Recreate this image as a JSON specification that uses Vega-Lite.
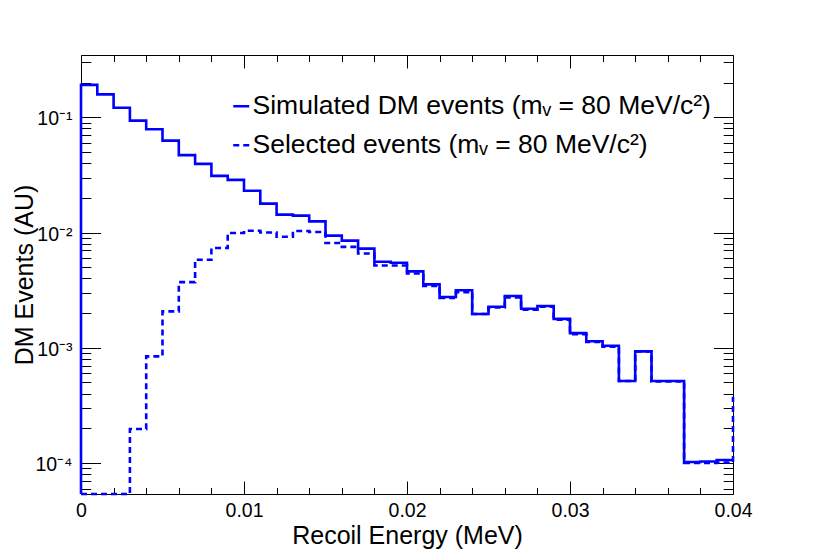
{
  "$schema": "https://vega.github.io/schema/vega-lite/v6.json",
  "width": 652,
  "height": 439,
  "autosize": {"type": "none"},
  "padding": {"left": 81, "top": 55, "right": 81, "bottom": 57},
  "background": "white",
  "config": {"font": "Liberation Sans", "view": {"stroke": null}},
  "data": {
    "values": [
      {"s": "sim", "i": 0, "x": 0, "y": 0.0000538},
      {"s": "sim", "i": 1, "x": 0.000, "y": 0.191},
      {"s": "sim", "i": 2, "x": 0.001, "y": 0.158},
      {"s": "sim", "i": 3, "x": 0.002, "y": 0.121},
      {"s": "sim", "i": 4, "x": 0.003, "y": 0.0935},
      {"s": "sim", "i": 5, "x": 0.004, "y": 0.0787},
      {"s": "sim", "i": 6, "x": 0.005, "y": 0.0627},
      {"s": "sim", "i": 7, "x": 0.006, "y": 0.0469},
      {"s": "sim", "i": 8, "x": 0.007, "y": 0.0394},
      {"s": "sim", "i": 9, "x": 0.008, "y": 0.031},
      {"s": "sim", "i": 10, "x": 0.009, "y": 0.0286},
      {"s": "sim", "i": 11, "x": 0.010, "y": 0.0230},
      {"s": "sim", "i": 12, "x": 0.011, "y": 0.0178},
      {"s": "sim", "i": 13, "x": 0.012, "y": 0.0143},
      {"s": "sim", "i": 14, "x": 0.013, "y": 0.0140},
      {"s": "sim", "i": 15, "x": 0.014, "y": 0.0125},
      {"s": "sim", "i": 16, "x": 0.015, "y": 0.0094},
      {"s": "sim", "i": 17, "x": 0.016, "y": 0.0085},
      {"s": "sim", "i": 18, "x": 0.017, "y": 0.00724},
      {"s": "sim", "i": 19, "x": 0.018, "y": 0.00558},
      {"s": "sim", "i": 20, "x": 0.019, "y": 0.00547},
      {"s": "sim", "i": 21, "x": 0.020, "y": 0.00460},
      {"s": "sim", "i": 22, "x": 0.021, "y": 0.00355},
      {"s": "sim", "i": 23, "x": 0.022, "y": 0.00276},
      {"s": "sim", "i": 24, "x": 0.023, "y": 0.00315},
      {"s": "sim", "i": 25, "x": 0.024, "y": 0.00196},
      {"s": "sim", "i": 26, "x": 0.025, "y": 0.00227},
      {"s": "sim", "i": 27, "x": 0.026, "y": 0.00281},
      {"s": "sim", "i": 28, "x": 0.027, "y": 0.00218},
      {"s": "sim", "i": 29, "x": 0.028, "y": 0.00230},
      {"s": "sim", "i": 30, "x": 0.029, "y": 0.00178},
      {"s": "sim", "i": 31, "x": 0.030, "y": 0.00134},
      {"s": "sim", "i": 32, "x": 0.031, "y": 0.00114},
      {"s": "sim", "i": 33, "x": 0.032, "y": 0.00104},
      {"s": "sim", "i": 34, "x": 0.033, "y": 0.000514},
      {"s": "sim", "i": 35, "x": 0.034, "y": 0.00093},
      {"s": "sim", "i": 36, "x": 0.035, "y": 0.000514},
      {"s": "sim", "i": 37, "x": 0.036, "y": 0.000514},
      {"s": "sim", "i": 38, "x": 0.037, "y": 0.000102},
      {"s": "sim", "i": 39, "x": 0.038, "y": 0.000103},
      {"s": "sim", "i": 40, "x": 0.039, "y": 0.000106},
      {"s": "sim", "i": 41, "x": 0.040, "y": 0.000106},
      {"s": "sel", "i": 1, "x": 0.000, "y": 0.0000538},
      {"s": "sel", "i": 2, "x": 0.001, "y": 0.0000538},
      {"s": "sel", "i": 3, "x": 0.002, "y": 0.0000538},
      {"s": "sel", "i": 4, "x": 0.003, "y": 0.000197},
      {"s": "sel", "i": 5, "x": 0.004, "y": 0.000842},
      {"s": "sel", "i": 6, "x": 0.005, "y": 0.00207},
      {"s": "sel", "i": 7, "x": 0.006, "y": 0.00371},
      {"s": "sel", "i": 8, "x": 0.007, "y": 0.00580},
      {"s": "sel", "i": 9, "x": 0.008, "y": 0.00733},
      {"s": "sel", "i": 10, "x": 0.009, "y": 0.00989},
      {"s": "sel", "i": 11, "x": 0.010, "y": 0.01035},
      {"s": "sel", "i": 12, "x": 0.011, "y": 0.0100},
      {"s": "sel", "i": 13, "x": 0.012, "y": 0.0092},
      {"s": "sel", "i": 14, "x": 0.013, "y": 0.0103},
      {"s": "sel", "i": 15, "x": 0.014, "y": 0.0101},
      {"s": "sel", "i": 16, "x": 0.015, "y": 0.0081},
      {"s": "sel", "i": 17, "x": 0.016, "y": 0.0075},
      {"s": "sel", "i": 18, "x": 0.017, "y": 0.00657},
      {"s": "sel", "i": 19, "x": 0.018, "y": 0.00517},
      {"s": "sel", "i": 20, "x": 0.019, "y": 0.00517},
      {"s": "sel", "i": 21, "x": 0.020, "y": 0.00441},
      {"s": "sel", "i": 22, "x": 0.021, "y": 0.00343},
      {"s": "sel", "i": 23, "x": 0.022, "y": 0.00270},
      {"s": "sel", "i": 24, "x": 0.023, "y": 0.00304},
      {"s": "sel", "i": 25, "x": 0.024, "y": 0.00196},
      {"s": "sel", "i": 26, "x": 0.025, "y": 0.00224},
      {"s": "sel", "i": 27, "x": 0.026, "y": 0.00273},
      {"s": "sel", "i": 28, "x": 0.027, "y": 0.00214},
      {"s": "sel", "i": 29, "x": 0.028, "y": 0.00227},
      {"s": "sel", "i": 30, "x": 0.029, "y": 0.00175},
      {"s": "sel", "i": 31, "x": 0.030, "y": 0.00131},
      {"s": "sel", "i": 32, "x": 0.031, "y": 0.00112},
      {"s": "sel", "i": 33, "x": 0.032, "y": 0.00102},
      {"s": "sel", "i": 34, "x": 0.033, "y": 0.000514},
      {"s": "sel", "i": 35, "x": 0.034, "y": 0.00093},
      {"s": "sel", "i": 36, "x": 0.035, "y": 0.00051},
      {"s": "sel", "i": 37, "x": 0.036, "y": 0.00051},
      {"s": "sel", "i": 38, "x": 0.037, "y": 0.000100},
      {"s": "sel", "i": 39, "x": 0.038, "y": 0.000100},
      {"s": "sel", "i": 40, "x": 0.039, "y": 0.000101},
      {"s": "sel", "i": 41, "x": 0.040, "y": 0.000376}
    ]
  },
  "layer": [
    {
      "mark": {"type": "line", "interpolate": "step-after", "color": "#0000ff", "strokeWidth": 2.6, "clip": false},
      "encoding": {
        "x": {
          "field": "x", "type": "quantitative",
          "scale": {"domain": [0, 0.04], "nice": false, "zero": false},
          "axis": {
            "orient": "bottom",
            "values": [0, 0.002, 0.004, 0.006, 0.008, 0.01, 0.012, 0.014, 0.016, 0.018, 0.02, 0.022, 0.024, 0.026, 0.028, 0.03, 0.032, 0.034, 0.036, 0.038, 0.04],
            "labelExpr": "abs(datum.value*100-round(datum.value*100))<1e-6 ? (datum.value == 0 ? '0' : format(datum.value, '.2f')) : ''",
            "tickSize": {"condition": {"test": "abs(datum.value*100-round(datum.value*100))<1e-6", "value": -13}, "value": -6.5},
            "labelPadding": 35,
            "labelBaseline": "alphabetic",
            "labelFontSize": 19.5,
            "labelColor": "black",
            "labelFlush": false,
            "labelOverlap": false,
            "tickColor": "black",
            "domainColor": "black",
            "grid": false,
            "title": "Recoil Energy (MeV)",
            "titleFontSize": 25,
            "titleFontWeight": "normal",
            "titleColor": "black",
            "titleX": 326,
            "titleY": 49,
            "titleBaseline": "alphabetic",
            "titleAlign": "center"
          }
        },
        "y": {
          "field": "y", "type": "quantitative",
          "scale": {"type": "log", "domain": [0.0000538, 0.347], "nice": false, "zero": false},
          "axis": {
            "orient": "left",
            "values": [0.00006, 0.00007, 0.00008, 0.00009, 0.0001, 0.0002, 0.0003, 0.0004, 0.0005, 0.0006, 0.0007, 0.0008, 0.0009, 0.001, 0.002, 0.003, 0.004, 0.005, 0.006, 0.007, 0.008, 0.009, 0.01, 0.02, 0.03, 0.04, 0.05, 0.06, 0.07, 0.08, 0.09, 0.1, 0.2, 0.3],
            "labelExpr": "abs(log(datum.value)/LN10 - round(log(datum.value)/LN10)) < 1e-6 ? '10⁻' + ['', '¹', '²', '³', '⁴'][round(-log(datum.value)/LN10)] : ''",
            "tickSize": {"condition": {"test": "abs(log(datum.value)/LN10 - round(log(datum.value)/LN10)) < 1e-6", "value": -19.5}, "value": -9.8},
            "labelPadding": 28.5,
            "labelAlign": "right",
            "labelBaseline": "middle",
            "labelOffset": 1.5,
            "labelFontSize": 19.5,
            "labelColor": "black",
            "labelOverlap": false,
            "labelFlush": false,
            "tickColor": "black",
            "domainColor": "black",
            "grid": false,
            "title": "DM Events (AU)",
            "titleFontSize": 25,
            "titleFontWeight": "normal",
            "titleColor": "black",
            "titleX": -49,
            "titleY": 219.5,
            "titleAngle": -90,
            "titleBaseline": "alphabetic",
            "titleAlign": "center"
          }
        },
        "order": {"field": "i", "type": "quantitative"},
        "strokeDash": {
          "field": "s", "type": "nominal",
          "scale": {"domain": ["sim", "sel"], "range": [[1, 0], [6, 4]]},
          "legend": {
            "orient": "none",
            "legendX": 147,
            "legendY": 38,
            "padding": 0,
            "title": null,
            "labelExpr": "datum.value == 'sim' ? 'Simulated DM events (mᵥ = 80 MeV/c²)' : 'Selected events (mᵥ = 80 MeV/c²)'",
            "labelFontSize": 26.5,
            "labelColor": "black",
            "labelOffset": -2,
            "labelLimit": 600,
            "rowPadding": 12,
            "symbolType": "stroke",
            "symbolSize": 256,
            "symbolStrokeWidth": 2.5,
            "symbolStrokeColor": "#0000ff"
          }
        }
      }
    },
    {
      "mark": {"type": "line", "interpolate": "step-after", "strokeOpacity": 0, "clip": false},
      "encoding": {
        "x": {
          "field": "x", "type": "quantitative",
          "axis": {
            "orient": "top",
            "values": [0, 0.002, 0.004, 0.006, 0.008, 0.01, 0.012, 0.014, 0.016, 0.018, 0.02, 0.022, 0.024, 0.026, 0.028, 0.03, 0.032, 0.034, 0.036, 0.038, 0.04],
            "labels": false,
            "tickSize": {"condition": {"test": "abs(datum.value*100-round(datum.value*100))<1e-6", "value": -13}, "value": -6.5},
            "tickColor": "black",
            "domainColor": "black",
            "grid": false,
            "title": null
          }
        },
        "y": {
          "field": "y", "type": "quantitative",
          "axis": {
            "orient": "right",
            "values": [0.00006, 0.00007, 0.00008, 0.00009, 0.0001, 0.0002, 0.0003, 0.0004, 0.0005, 0.0006, 0.0007, 0.0008, 0.0009, 0.001, 0.002, 0.003, 0.004, 0.005, 0.006, 0.007, 0.008, 0.009, 0.01, 0.02, 0.03, 0.04, 0.05, 0.06, 0.07, 0.08, 0.09, 0.1, 0.2, 0.3],
            "labels": false,
            "tickSize": {"condition": {"test": "abs(log(datum.value)/LN10 - round(log(datum.value)/LN10)) < 1e-6", "value": -19.5}, "value": -9.8},
            "tickColor": "black",
            "domainColor": "black",
            "grid": false,
            "title": null
          }
        },
        "order": {"field": "i", "type": "quantitative"},
        "detail": {"field": "s", "type": "nominal"}
      }
    }
  ],
  "resolve": {"axis": {"x": "independent", "y": "independent"}}
}
